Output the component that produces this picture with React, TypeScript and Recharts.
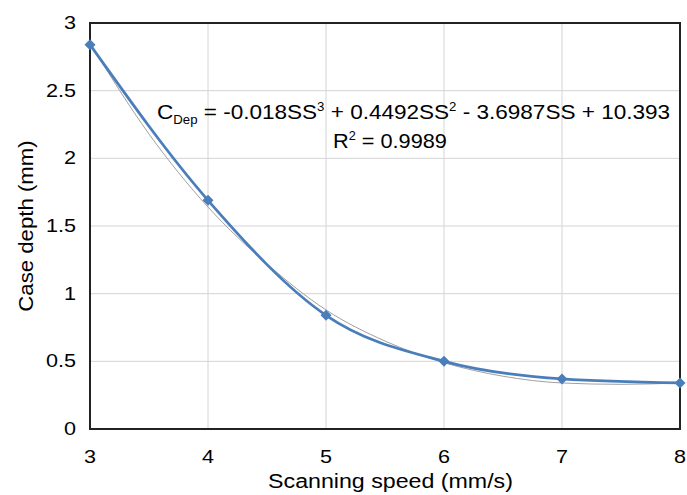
import React from 'react';
import { LineChart, Line, XAxis, YAxis, CartesianGrid, ReferenceArea, Customized } from 'recharts';

// measured case depth vs scanning speed
const speeds = [3, 4, 5, 6, 7, 8];
const caseDepth = [2.84, 1.69, 0.84, 0.5, 0.37, 0.34];

// polynomial trendline
const trendSpeeds = [3, 3.5, 4, 4.5, 5, 5.5, 6, 6.5, 7, 7.5, 8];
const trendDepth = [2.85, 2.18, 1.64, 1.22, 0.88, 0.65, 0.49, 0.39, 0.34, 0.33, 0.34];

const xTicks = [3, 4, 5, 6, 7, 8];
const yTicks = [0, 0.5, 1, 1.5, 2, 2.5, 3];

const measured = speeds.map((s, i) => ({ speed: s, depth: caseDepth[i] }));
const trend = trendSpeeds.map((s, i) => ({ speed: s, depth: trendDepth[i] }));

const FONT = "'Liberation Sans', Arial, sans-serif";
const BLUE = '#4a7ebb';

const Diamond = (props: any) => {
  const { cx, cy, index } = props;
  if (cx == null || cy == null) return null;
  const r = 5.5;
  return (
    <polygon
      key={`d-${index}`}
      points={`${cx},${cy - r} ${cx + r},${cy} ${cx},${cy + r} ${cx - r},${cy}`}
      fill={BLUE}
    />
  );
};

const XTick = (props: any) => {
  const { x, y, payload } = props;
  return (
    <g transform={`translate(${x},${y + 33.5}) scale(1.2,1)`}>
      <text textAnchor="middle" fontSize={18} fontFamily={FONT} fill="#000">
        {payload.value}
      </text>
    </g>
  );
};

const YTick = (props: any) => {
  const { x, y, payload } = props;
  return (
    <g transform={`translate(${x - 14},${y + 6}) scale(1.2,1)`}>
      <text textAnchor="end" fontSize={18} fontFamily={FONT} fill="#000">
        {payload.value}
      </text>
    </g>
  );
};

const Annotations = () => (
  <g fontFamily={FONT} fill="#000">
    <g transform="translate(157,119) scale(1.1,1)">
      <text fontSize={20.5}>
        C<tspan fontSize={12} dy={5}>Dep</tspan>
        <tspan dy={-5}> = -0.018SS</tspan>
        <tspan fontSize={12} dy={-8}>3</tspan>
        <tspan dy={8}> + 0.4492SS</tspan>
        <tspan fontSize={12} dy={-8}>2</tspan>
        <tspan dy={8}> - 3.6987SS + 10.393</tspan>
      </text>
    </g>
    <g transform="translate(333,148) scale(1.06,1)">
      <text fontSize={20.5}>
        R<tspan fontSize={12} dy={-8}>2</tspan>
        <tspan dy={8}> = 0.9989</tspan>
      </text>
    </g>
    <g transform="translate(390.5,487.5) scale(1.16,1)">
      <text textAnchor="middle" fontSize={20}>Scanning speed (mm/s)</text>
    </g>
    <g transform="translate(33,226) rotate(-90) scale(1.11,1)">
      <text textAnchor="middle" fontSize={20}>Case depth (mm)</text>
    </g>
  </g>
);

export default function App() {
  return (
    <div style={{ position: 'absolute', left: 0, top: 0, background: '#fff' }}>
      <LineChart width={687} height={495} margin={{ top: 23, right: 7, bottom: 0, left: 0 }}>
        <CartesianGrid stroke="#d4d4d4" strokeWidth={1} />
        <XAxis
          dataKey="speed"
          type="number"
          domain={[3, 8]}
          ticks={xTicks}
          height={66}
          tickSize={0}
          tickMargin={0}
          axisLine={false}
          tickLine={false}
          tick={<XTick />}
          allowDuplicatedCategory={false}
        />
        <YAxis
          dataKey="depth"
          type="number"
          domain={[0, 3]}
          ticks={yTicks}
          width={90}
          tickSize={0}
          tickMargin={0}
          axisLine={false}
          tickLine={false}
          tick={<YTick />}
        />
        <ReferenceArea x1={3} x2={8} y1={0} y2={3} fill="none" stroke="#222" strokeWidth={2} ifOverflow="visible" />
        <Line
          data={trend}
          dataKey="depth"
          type="monotone"
          stroke="#a0a0a0"
          strokeWidth={1}
          dot={false}
          activeDot={false}
          isAnimationActive={false}
        />
        <Line
          data={measured}
          dataKey="depth"
          type="monotone"
          stroke={BLUE}
          strokeWidth={2.75}
          dot={<Diamond />}
          activeDot={false}
          isAnimationActive={false}
        />
        <Customized component={Annotations} />
      </LineChart>
    </div>
  );
}
